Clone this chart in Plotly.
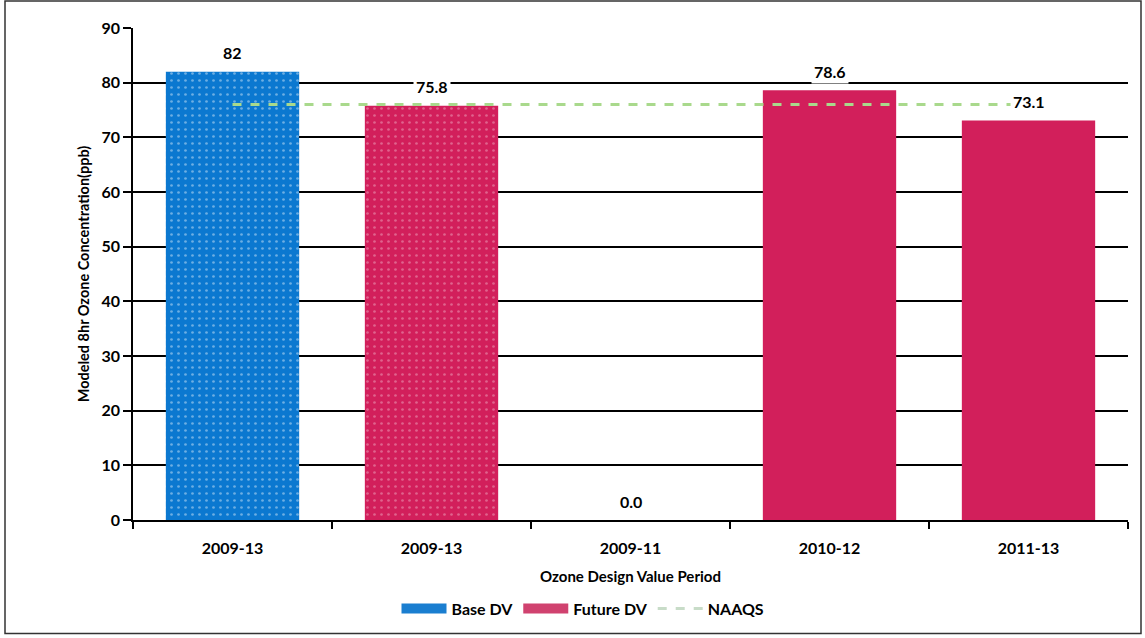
import plotly.graph_objects as go

tick_labels = ["2009-13", "2009-13", "2009-11", "2010-12", "2011-13"]
base_x = [0]
base_vals = [82]
future_x = [1, 2, 3, 4]
future_vals = [75.8, 0.0, 78.6, 73.1]
future_text = ["75.8", "0.0", "78.6", "73.1"]
base_text = ["82"]
naaqs_x = [0, 4]
naaqs_vals = [76, 76]

BLUE = "#0b78d0"
PINK = "#d21f5b"
FONT = "Lato"

fig = go.Figure()
fig.add_trace(go.Bar(
    x=base_x, y=base_vals, name="Base DV", width=0.67, showlegend=False,
    marker=dict(color=BLUE, line=dict(width=0),
                pattern=dict(shape=".", fgcolor="rgba(255,255,255,0.8)", bgcolor=BLUE,
                             size=7, solidity=0.12, fillmode="overlay")),
))
fig.add_trace(go.Bar(
    x=future_x, y=future_vals, name="Future DV", width=0.67, showlegend=False,
    marker=dict(color=PINK, line=dict(width=0),
                pattern=dict(shape=[".", "", "", ""], fgcolor="rgba(255,255,255,0.6)",
                             bgcolor=PINK, size=7, solidity=0.12, fillmode="overlay")),
))
fig.add_trace(go.Scatter(
    x=naaqs_x, y=naaqs_vals, name="NAAQS", mode="lines", showlegend=False,
    line=dict(color="#a9d98c", width=3, dash="dash"),
))
# legend entries
fig.add_trace(go.Scatter(x=[None], y=[None], mode="lines", name="<b>Base DV</b>",
                         line=dict(color="#1a7ed0", width=12)))
fig.add_trace(go.Scatter(x=[None], y=[None], mode="lines", name="<b>Future DV</b>",
                         line=dict(color="#d0426f", width=12)))
fig.add_trace(go.Scatter(x=[None], y=[None], mode="lines", name="<b>NAAQS</b>",
                         line=dict(color="#c8dcc8", width=3, dash="dash")))

for xv, yv, t in zip(base_x + future_x, base_vals + future_vals, base_text + future_text):
    fig.add_annotation(x=xv, y=yv, text="<b>%s</b>" % t, showarrow=False, yshift=19,
                       bgcolor="white", borderpad=2,
                       font=dict(family=FONT, size=16, color="black"))

W, H = 995, 494
fig.update_layout(
    width=1145, height=638,
    margin=dict(l=133, r=17, t=28, b=116),
    paper_bgcolor="white", plot_bgcolor="white",
    barmode="overlay",
    font=dict(family=FONT, size=15, color="black"),
    showlegend=True,
    legend=dict(orientation="h", x=(583 - 133) / W, xanchor="center", y=(522 - 611) / H,
                yanchor="middle", font=dict(family=FONT, size=16, color="black"),
                itemwidth=45, traceorder="normal", tracegroupgap=0),
    shapes=[dict(type="rect", xref="paper", yref="paper",
                 x0=(5 - 133) / W, x1=(1141 - 133) / W,
                 y0=(522 - 636) / H, y1=(522 - 1) / H,
                 line=dict(color="#333", width=1.5), fillcolor="rgba(0,0,0,0)", layer="below")],
)
fig.update_xaxes(
    range=[-0.5, 4.5], tickmode="array", tickvals=list(range(5)), automargin=False,
    ticktext=["<b>%s</b>" % t for t in tick_labels], ticks="", showgrid=False,
    showline=True, linecolor="black", linewidth=1.5, zeroline=False,
    tickfont=dict(family=FONT, size=16), ticklabelstandoff=13,
    minor=dict(tickmode="linear", tick0=-0.5, dtick=1, ticks="outside", ticklen=7,
               tickcolor="black", tickwidth=1.5, showgrid=False),
    title=dict(text="<b>Ozone Design Value Period</b>", font=dict(family=FONT, size=15), standoff=16),
)
fig.update_yaxes(
    range=[0, 90], dtick=10, ticks="outside", ticklen=8, tickcolor="black", tickwidth=1.5,
    showgrid=True, gridcolor="black", gridwidth=1.5, zeroline=False, automargin=False,
    showline=True, linecolor="black", linewidth=1.5,
    tickfont=dict(family=FONT, size=16), tickprefix="<b>", ticksuffix="</b>",
    title=dict(text="<b>Modeled 8hr Ozone Concentration(ppb)</b>", font=dict(family=FONT, size=14.5), standoff=8),
)

fig.write_html("out.html", config={"displayModeBar": False},
               post_script="document.body.style.margin='0';")
